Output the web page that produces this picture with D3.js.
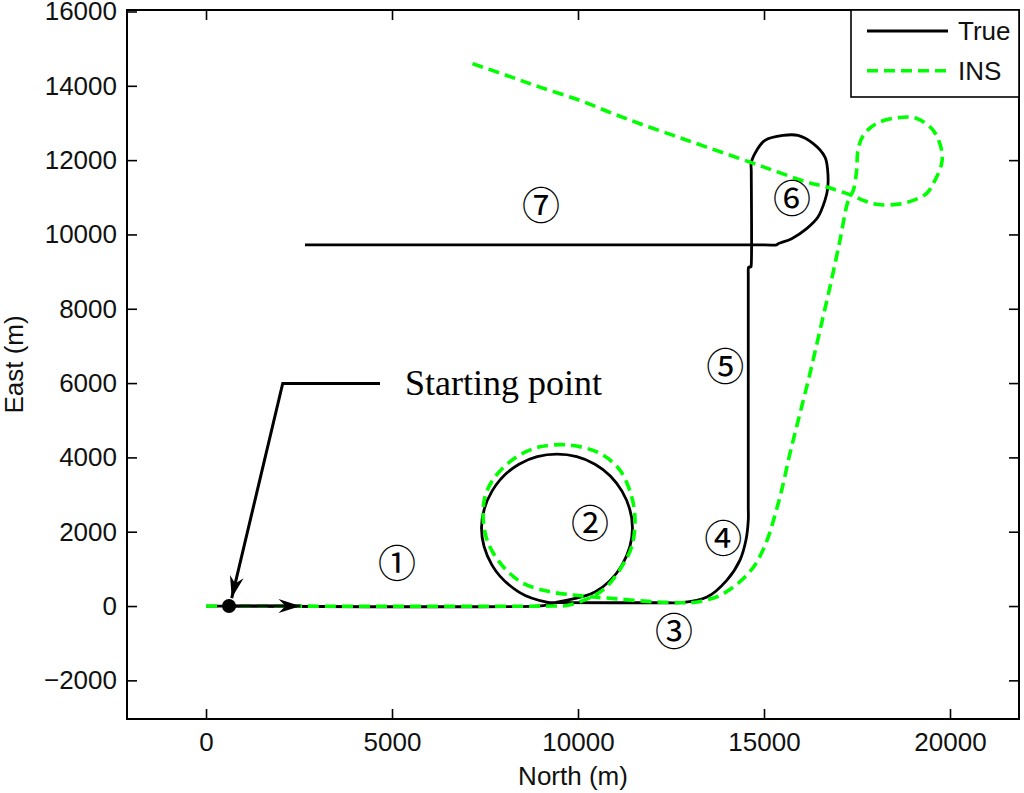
<!DOCTYPE html>
<html>
<head>
<meta charset="utf-8">
<script src="https://d3js.org/d3.v7.min.js"></script>
<style>
  html, body { margin: 0; padding: 0; background: #fff; }
  svg { display: block; }
</style>
</head>
<body>
<div id="chart"></div>
<script>
// ---------------- data (metres) ----------------
const xTicks = [0, 5000, 10000, 15000, 20000];
const yTicks = [-2000, 0, 2000, 4000, 6000, 8000, 10000, 12000, 14000, 16000];
const seriesNames = ["True", "INS"];

// True trajectory (North, East)
const trueNorth = [0, 300, 8900, 9193, 9435, 10456, 11182, 11464, 11182, 10456, 9435, 8413, 7688, 7406, 7688, 8413, 9193, 9435,
  12400, 12741, 13467, 14004, 14354, 14515, 14577, 14577, 14577, 14577, 14590, 14645, 14658, 14658, 14658,
  14803, 15026, 15510, 15913, 16316, 16639, 16711, 16711, 16639, 16451, 16147, 15744, 15383, 15340, 15000, 3000, 2661];
const trueEast = [0, 0, 0, 30, 105, 376, 1102, 2097, 3092, 3818, 4087, 3818, 3092, 2097, 1102, 376, 100, 92,
  89, 89, 242, 699, 1237, 1775, 2313, 2700, 8900, 9050, 9124, 9124, 9200, 11700, 11939,
  12262, 12531, 12665, 12665, 12450, 12082, 11724, 11232, 10917, 10468, 10156, 9887, 9753, 9720, 9720, 9720, 9720];

// INS trajectory (North, East)
const insNorth = [0, 300, 9300, 9697, 10053, 10411, 10771, 11174, 11443, 11532, 11443, 11128, 10591, 9784, 8978, 8352, 7768, 7500,
  7454, 7588, 7991, 8529, 9247, 9873, 10411, 10779, 12015, 12741, 13091, 13736, 14139, 14488, 14757, 14972, 15133, 15295, 15475,
  15698, 15967, 16236, 16505, 16773, 17042, 17265, 17400, 17491, 17526, 17668, 18028, 18655, 19103, 19550, 19776,
  19776, 19596, 19373, 19012, 18566, 18028, 17668, 17356, 16684, 16147, 15250, 14623, 13459, 12561, 11666, 10948,
  10053, 8978, 8083, 7051];
const insEast = [0, 0, 0, 13, 116, 269, 519, 1057, 1595, 2313, 2939, 3657, 4106, 4329, 4284, 4015, 3477, 2939,
  2313, 1686, 1057, 610, 385, 296, 242, 215, 116, 89, 94, 250, 484, 780, 1102, 1506, 1909, 2447, 3119,
  4106, 5182, 6257, 7422, 8586, 9842, 10917, 11186, 11724, 12262, 12665, 12988, 13149, 13122, 12800, 12262,
  11912, 11455, 11106, 10917, 10810, 10810, 10917, 11052, 11275, 11410, 11724, 11947, 12351, 12665, 12980, 13249,
  13606, 13964, 14279, 14636];

// Starting point and annotation (data units)
const startPoint = [618, 0];
const startArrowEnd = [2540, 0];
const calloutPath = [[4677, 5988], [2062, 5988], [691, 215]];
const calloutText = "Starting point";
const calloutTextPos = [5349, 5674];

// Segment labels
const segLabels = ["\u2460", "\u2461", "\u2462", "\u2463", "\u2464", "\u2465", "\u2466"];
const segNorth = [5134, 10322, 12580, 13902, 13956, 15752, 9004];
const segEast = [1237, 2313, -598, 1909, 6526, 11052, 10870];

// ---------------- drawing ----------------
const W = 1024, H = 793;
const plot = { left: 127, right: 1019, top: 10, bottom: 719 };

const svg = d3.select("#chart").append("svg")
  .attr("width", W).attr("height", H)
  .style("font-family", "'Liberation Sans', Arial, sans-serif");

const x = d3.scaleLinear().domain([-2124, 21855]).range([plot.left, plot.right]);
const y = d3.scaleLinear().domain([-3040, 16040]).range([plot.bottom, plot.top]);

const defs = svg.append("defs");
defs.append("clipPath").attr("id", "clip")
  .append("rect").attr("x", plot.left).attr("y", plot.top)
  .attr("width", plot.right - plot.left).attr("height", plot.bottom - plot.top);

const fs = 26;
// axes
const xAxis = svg.append("g").attr("transform", `translate(0,${plot.bottom})`)
  .call(d3.axisBottom(x).tickValues(xTicks).tickFormat(d3.format("d")).tickSizeInner(-10).tickSizeOuter(0).tickPadding(14));
const xAxisTop = svg.append("g").attr("transform", `translate(0,${plot.top})`)
  .call(d3.axisTop(x).tickValues(xTicks).tickFormat("").tickSizeInner(-10).tickSizeOuter(0));
const yAxis = svg.append("g").attr("transform", `translate(${plot.left},0)`)
  .call(d3.axisLeft(y).tickValues(yTicks).tickFormat(d3.format("d")).tickSizeInner(-10).tickSizeOuter(0).tickPadding(10));
const yAxisR = svg.append("g").attr("transform", `translate(${plot.right},0)`)
  .call(d3.axisRight(y).tickValues(yTicks).tickFormat("").tickSizeInner(-10).tickSizeOuter(0));

[xAxis, xAxisTop, yAxis, yAxisR].forEach(g => {
  g.select(".domain").remove();
  g.selectAll(".tick line").attr("stroke", "#000").attr("stroke-width", 1.6);
  g.selectAll(".tick text").attr("fill", "#111").style("font-size", fs + "px")
    .style("font-family", "'Liberation Sans', Arial, sans-serif");
});

// frame
svg.append("rect")
  .attr("x", plot.left).attr("y", plot.top)
  .attr("width", plot.right - plot.left).attr("height", plot.bottom - plot.top)
  .attr("fill", "none").attr("stroke", "#000").attr("stroke-width", 2);

// axis labels
svg.append("text").attr("x", (plot.left + plot.right) / 2).attr("y", 785)
  .attr("text-anchor", "middle").style("font-size", fs + "px").attr("fill", "#111")
  .text("North (m)");
svg.append("text").attr("transform", `translate(23,${(plot.top + plot.bottom) / 2}) rotate(-90)`)
  .attr("text-anchor", "middle").style("font-size", fs + "px").attr("fill", "#111")
  .text("East (m)");

const line = d3.line().x(d => x(d[0])).y(d => y(d[1])).curve(d3.curveCatmullRom.alpha(0.5));
const trueData = trueNorth.map((v, i) => [v, trueEast[i]]);
const insData = insNorth.map((v, i) => [v, insEast[i]]);

const gPlot = svg.append("g").attr("clip-path", "url(#clip)");
gPlot.append("path").datum(trueData).attr("d", line)
  .attr("fill", "none").attr("stroke", "#000").attr("stroke-width", 2.8).attr("stroke-linejoin", "round");
gPlot.append("path").datum(insData).attr("d", line)
  .attr("fill", "none").attr("stroke", "#00ff00").attr("stroke-width", 3.6).attr("stroke-dasharray", "11,6");

// segment labels
segLabels.forEach((t, i) => {
  svg.append("text").attr("x", x(segNorth[i])).attr("y", y(segEast[i]))
    .attr("text-anchor", "middle").attr("dominant-baseline", "central")
    .style("font-family", "'Noto Sans CJK SC', 'DejaVu Sans', sans-serif")
    .style("font-size", "38px").attr("fill", "#000").text(t);
});

// arrow markers
defs.append("marker").attr("id", "arr").attr("viewBox", "0 0 22 14")
  .attr("refX", 22).attr("refY", 7).attr("markerWidth", 22).attr("markerHeight", 14)
  .attr("markerUnits", "userSpaceOnUse").attr("orient", "auto")
  .append("path").attr("d", "M0,0 L22,7 L0,14 L7,7 Z").attr("fill", "#000");

// start arrow
svg.append("line")
  .attr("x1", x(startPoint[0])).attr("y1", y(startPoint[1]))
  .attr("x2", x(startArrowEnd[0])).attr("y2", y(startArrowEnd[1]))
  .attr("stroke", "#000").attr("stroke-width", 3).attr("marker-end", "url(#arr)");

// callout
svg.append("path")
  .attr("d", d3.line().x(d => x(d[0])).y(d => y(d[1]))(calloutPath))
  .attr("fill", "none").attr("stroke", "#000").attr("stroke-width", 3).attr("marker-end", "url(#arr)");
svg.append("circle").attr("cx", x(startPoint[0])).attr("cy", y(startPoint[1])).attr("r", 7).attr("fill", "#000");
svg.append("text").attr("x", x(calloutTextPos[0])).attr("y", y(calloutTextPos[1]))
  .style("font-family", "'Liberation Serif', 'Times New Roman', serif").style("font-size", "36px")
  .attr("fill", "#000").text(calloutText);

// legend
const lg = svg.append("g");
lg.append("rect").attr("x", 851).attr("y", plot.top).attr("width", plot.right - 851).attr("height", 87)
  .attr("fill", "#fff").attr("stroke", "#000").attr("stroke-width", 1.6);
const legendStyles = [
  { stroke: "#000", width: 3, dash: null },
  { stroke: "#00ff00", width: 3.6, dash: "11,6" }
];
seriesNames.forEach((n, i) => {
  const yy = 31 + i * 39.7;
  lg.append("line").attr("x1", 867).attr("x2", 948).attr("y1", yy).attr("y2", yy)
    .attr("stroke", legendStyles[i].stroke).attr("stroke-width", legendStyles[i].width)
    .attr("stroke-dasharray", legendStyles[i].dash);
  lg.append("text").attr("x", 958).attr("y", yy).attr("dominant-baseline", "central")
    .style("font-size", fs + "px").attr("fill", "#111").text(n);
});
</script>
</body>
</html>
